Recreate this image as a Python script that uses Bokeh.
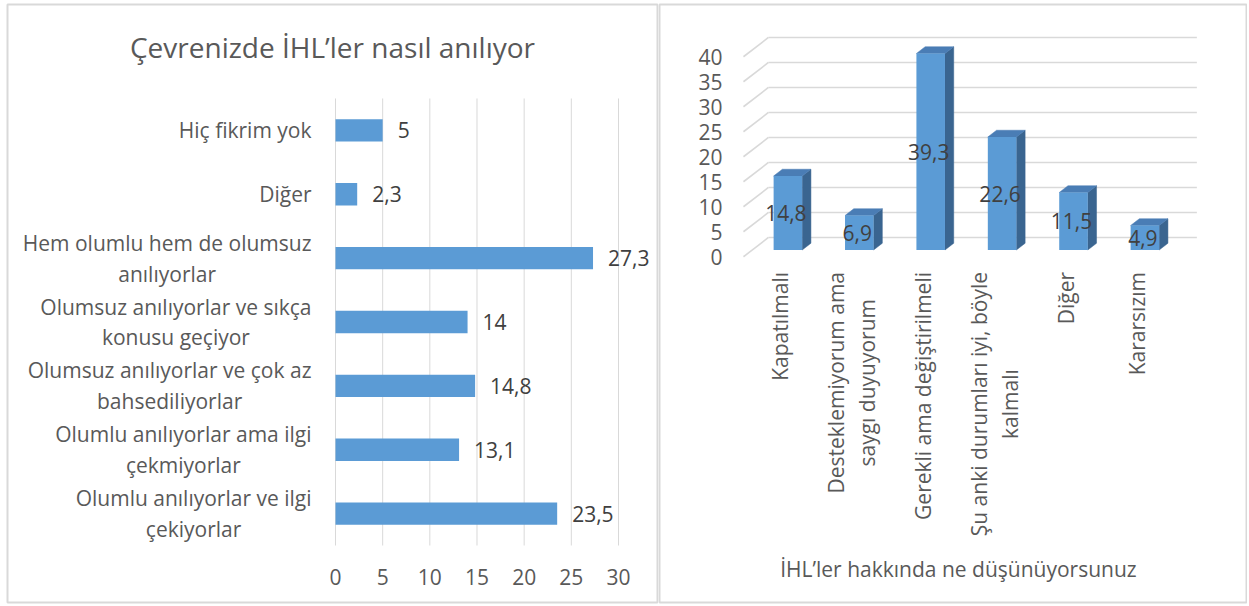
import math
from bokeh.plotting import figure
from bokeh.models import ColumnDataSource, Range1d
from bokeh.layouts import row
from bokeh.embed import file_html
from bokeh.resources import INLINE
from bokeh.core.properties import value

# ---------------- data ----------------
left_title = "Çevrenizde İHL’ler nasıl anılıyor"
left_categories = [
    "Olumlu anılıyorlar ve ilgi\nçekiyorlar",
    "Olumlu anılıyorlar ama ilgi\nçekmiyorlar",
    "Olumsuz anılıyorlar ve çok az\nbahsediliyorlar",
    "Olumsuz anılıyorlar ve sıkça\nkonusu geçiyor",
    "Hem olumlu hem de olumsuz\nanılıyorlar",
    "Diğer",
    "Hiç fikrim yok",
]
left_values = [23.5, 13.1, 14.8, 14.0, 27.3, 2.3, 5.0]
left_value_labels = ["23,5", "13,1", "14,8", "14", "27,3", "2,3", "5"]
left_ticks = [0, 5, 10, 15, 20, 25, 30]

right_categories = [
    "Kapatılmalı",
    "Desteklemiyorum ama\nsaygı duyuyorum",
    "Gerekli ama değiştirilmeli",
    "Şu anki durumları iyi, böyle\nkalmalı",
    "Diğer",
    "Kararsızım",
]
right_values = [14.8, 6.9, 39.3, 22.6, 11.5, 4.9]
right_value_labels = ["14,8", "6,9", "39,3", "22,6", "11,5", "4,9"]
right_ticks = [0, 5, 10, 15, 20, 25, 30, 35, 40]
right_axis_title = "İHL’ler hakkında ne düşünüyorsunuz"

# ---------------- styles / layout ----------------
FONT = "Open Sans"
TEXT = "#595959"
DARK = "#404040"
GRID = "#D9D9D9"
BLUE = "#5B9BD5"
BLUE_TOP = "#4A7DB5"
BLUE_SIDE = "#3A6590"
H = 604
W1 = 658
W2 = 589
TOP, BOTTOM = 4, 602          # frame top / bottom (canvas px)

# ---------------- left chart ----------------
nl = len(left_categories)
L_LEFT, L_RIGHT = 7, 657      # frame left / right
l_px_x = 9.433                # px per unit
l_zero = 335                  # x = 0
l_band = 63.86
l_base = 545                  # bottom of the category bands
lx0 = (L_LEFT - l_zero) / l_px_x
lx1 = (L_RIGHT - l_zero) / l_px_x
ly1 = (l_base - TOP) / l_band
ly0 = -(BOTTOM - l_base) / l_band

ypos = [i + 0.5 for i in range(nl)]
lsrc = ColumnDataSource(dict(cat=left_categories, y=ypos, val=left_values, lbl=left_value_labels))

lp = figure(width=W1, height=H, output_backend="svg", toolbar_location=None,
            x_range=Range1d(lx0, lx1), y_range=Range1d(ly0, ly1),
            x_axis_location=None, y_axis_location=None,
            min_border_left=L_LEFT, min_border_right=W1 - L_RIGHT,
            min_border_top=TOP, min_border_bottom=H - BOTTOM)
lp.grid.visible = False
lp.outline_line_color = GRID
lp.outline_line_width = 2

lp.segment(x0=left_ticks, y0=[0] * len(left_ticks), x1=left_ticks, y1=[nl] * len(left_ticks),
           line_color=GRID, line_width=1)
lp.hbar(y="y", left=0, right="val", height=0.35, fill_color=BLUE, line_color=None, source=lsrc)
lp.text(x="val", y="y", text="lbl", source=lsrc, x_offset=15,
        text_align="left", text_baseline="middle",
        text_font=value(FONT), text_font_size="21px", text_color=DARK)
lp.text(x=0, y="y", text="cat", source=lsrc, x_offset=-24,
        anchor="center_right", text_align="center", text_baseline="middle",
        text_line_height=1.1,
        text_font=value(FONT), text_font_size="21px", text_color=TEXT)
lp.text(x=left_ticks, y=[0] * len(left_ticks), text=[str(t) for t in left_ticks], y_offset=31,
        text_align="center", text_baseline="middle",
        text_font=value(FONT), text_font_size="21px", text_color=TEXT)
lp.text(x=[(lx0 + lx1) / 2], y=[nl], text=[left_title], y_offset=-51,
        text_align="center", text_baseline="middle",
        text_font=value(FONT), text_font_size="28px", text_color=TEXT)

# ---------------- right chart (3D columns) ----------------
n = len(right_categories)
R_LEFT, R_RIGHT = 659 - W1, 1246 - W1   # frame left / right inside canvas
r_px_x = 71.4
r_px_y = 5.0
r_zero_x = 751.7 - W1                   # x = 0 (bar plane)
r_zero_y = 249.5                        # y = 0 (bar plane)
xr0 = (R_LEFT - r_zero_x) / r_px_x
xr1 = (R_RIGHT - r_zero_x) / r_px_x
yr1 = (r_zero_y - TOP) / r_px_y
yr0 = -(BOTTOM - r_zero_y) / r_px_y
depth_px = (25.0, 19.3)
bar_front, bar_back = 0.35, 0.70


def shift(d):
    return ((d - bar_front) * depth_px[0] / r_px_x, (d - bar_front) * depth_px[1] / r_px_y)


rp = figure(width=W2, height=H, output_backend="svg", toolbar_location=None,
            x_range=Range1d(xr0, xr1), y_range=Range1d(yr0, yr1),
            x_axis_location=None, y_axis_location=None,
            min_border_left=R_LEFT, min_border_right=W2 - R_RIGHT,
            min_border_top=TOP, min_border_bottom=H - BOTTOM)
rp.outline_line_color = GRID
rp.outline_line_width = 2
rp.grid.visible = False

fx, fy = shift(0.0)
bx, by = shift(1.0)
nt = len(right_ticks)
# back wall gridlines and left wall depth lines
rp.segment(x0=[0 + bx] * nt, y0=[t + by for t in right_ticks],
           x1=[n + bx] * nt, y1=[t + by for t in right_ticks],
           line_color=GRID, line_width=1.6)
rp.segment(x0=[0 + fx] * nt, y0=[t + fy for t in right_ticks],
           x1=[0 + bx] * nt, y1=[t + by for t in right_ticks],
           line_color=GRID, line_width=1.6)
# value axis labels on the front plane
rp.text(x=[0 + fx] * nt, y=[t + fy for t in right_ticks], text=[str(t) for t in right_ticks],
        x_offset=-21, text_align="right", text_baseline="middle",
        text_font=value(FONT), text_font_size="21px", text_color=TEXT)

# bars
xc = [i + 0.5 for i in range(n)]
bw = 0.4
kx, ky = shift(bar_back)
top_xs, top_ys, side_xs, side_ys = [], [], [], []
for x, v in zip(xc, right_values):
    xl, xr = x - bw / 2, x + bw / 2
    top_xs.append([xl, xr, xr + kx, xl + kx])
    top_ys.append([v, v, v + ky, v + ky])
    side_xs.append([xr, xr + kx, xr + kx, xr])
    side_ys.append([0, ky, v + ky, v])
rp.patches(xs=side_xs, ys=side_ys, fill_color=BLUE_SIDE, line_color=BLUE_SIDE, line_width=0.5)
rp.patches(xs=top_xs, ys=top_ys, fill_color=BLUE_TOP, line_color=BLUE_TOP, line_width=0.5)
rsrc = ColumnDataSource(dict(x=xc, val=right_values, half=[v / 2 for v in right_values],
                             lbl=right_value_labels, cat=right_categories))
rp.vbar(x="x", bottom=0, top="val", width=bw, fill_color=BLUE, line_color=None, source=rsrc)

rp.text(x="x", y="half", text="lbl", source=rsrc, x_offset=-2,
        text_align="center", text_baseline="middle",
        text_font=value(FONT), text_font_size="21px", text_color=DARK)

rp.text(x="x", y=0, text="cat", source=rsrc, angle=math.pi / 2,
        x_offset=-7.5, y_offset=22,
        anchor="center_right", text_align="center", text_baseline="middle",
        text_line_height=1.1,
        text_font=value(FONT), text_font_size="21px", text_color=TEXT)

rp.text(x=[n / 2], y=[0], text=[right_axis_title], x_offset=-8, y_offset=318.5,
        text_align="center", text_baseline="middle",
        text_font=value(FONT), text_font_size="21px", text_color=TEXT)

layout = row(lp, rp)
open("out.html", "w").write(file_html(layout, INLINE))
